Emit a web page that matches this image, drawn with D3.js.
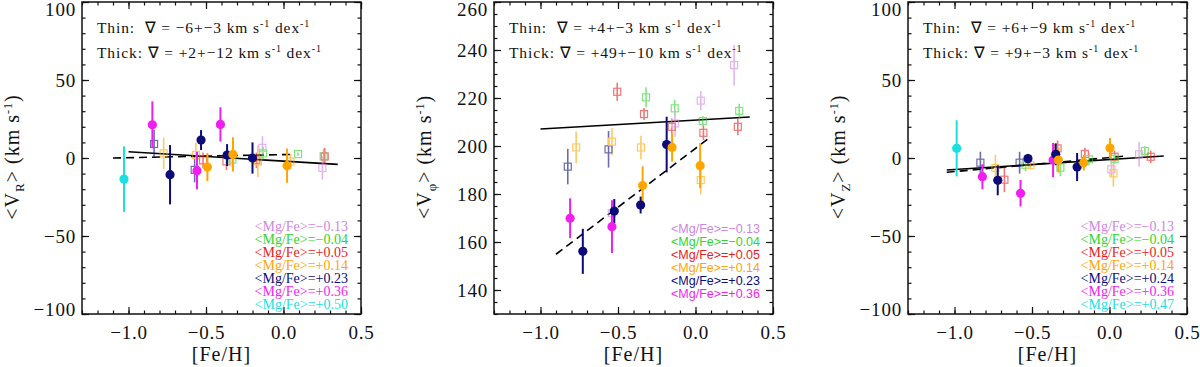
<!DOCTYPE html>
<html>
<head>
<meta charset="utf-8">
<script src="https://cdn.jsdelivr.net/npm/d3@7"></script>
<style>
    body { margin: 0; background: #fff; }
    svg { display: block; }
    svg text { font-family: 'Liberation Serif', 'Times New Roman', Times, serif; }
    .tick text { font-size: 19px; letter-spacing: 0.8px; fill: #111; }
    .tick line { stroke: #111; stroke-width: 1.2; }
    .domain { display: none; }
    .frame { fill: none; stroke: #111; stroke-width: 1.5; }
    .title { font-size: 20px; letter-spacing: 1px; fill: #111; }
    .grad { font-size: 15.5px; letter-spacing: 0.9px; fill: #111; }
    svg text.sans { font-family: 'Liberation Sans', Arial, sans-serif; }
</style>
</head>
<body>
<svg width="1200" height="367"></svg>
<script>
const fehTicks = [-1.0, -0.5, 0.0, 0.5];
const vrTicks = [-100, -50, 0, 50, 100];
const vphiTicks = [140, 160, 180, 200, 220, 240, 260];
const vzTicks = [-100, -50, 0, 50, 100];

// <Mg/Fe> bins shown in each legend
const legendR = ['−0.13', '−0.04', '+0.05', '+0.14', '+0.23', '+0.36', '+0.50'];
const legendPhi = ['−0.13', '−0.04', '+0.05', '+0.14', '+0.23', '+0.36'];
const legendZ = ['−0.13', '−0.04', '+0.05', '+0.14', '+0.24', '+0.36', '+0.47'];

// [Fe/H], <V>, error, Mg/Fe bin (index into legend)
const vrThin = [
    [-0.835, 9, 9, 4], [-0.773, 3, 10, 3], [-0.573, -7.6, 8, 4], [-0.565, 2, 8, 3],
    [-0.519, -1.5, 5, 2], [-0.368, -2.2, 5.5, 2], [-0.33, -1, 5, 1], [-0.175, -1.5, 5, 2],
    [-0.165, -2.2, 10, 3], [-0.136, 6.5, 7.5, 0], [-0.132, 3, 4, 1], [0.045, -2.2, 5, 3],
    [0.094, 2.5, 1, 1], [0.251, -6.4, 7.5, 0], [0.259, 1, 5, 1], [0.266, 1, 5.5, 2]
];
const vrThick = [
    [-1.029, -13.5, 21, 6], [-0.846, 21.3, 15, 5], [-0.732, -10.7, 19, 4], [-0.532, 11.5, 6.4, 4],
    [-0.558, -8.1, 12, 5], [-0.491, -5.8, 9, 3], [-0.407, 21.5, 11, 5], [-0.364, 1.9, 7, 4],
    [-0.326, 2.3, 11, 3], [-0.2, 0, 10, 4], [0.023, -4.9, 11, 3]
];
const vphiThin = [
    [0.249, 233.7, 8.5, 0], [-0.505, 222.6, 3.8, 2], [-0.319, 220.3, 4.2, 1], [0.034, 218.9, 4, 0],
    [-0.134, 215.7, 3.5, 1], [0.282, 214.6, 3, 1], [-0.332, 213.3, 2.5, 2], [-0.132, 209.4, 5.5, 0],
    [-0.153, 208, 3.5, 2], [0.047, 210.4, 2, 1], [0.051, 205.5, 3, 2], [0.273, 208, 3.5, 2],
    [-0.824, 191.4, 7.4, 4], [-0.77, 199.4, 6.6, 3], [-0.561, 198.6, 7.6, 4], [-0.539, 201.8, 5.7, 3],
    [-0.352, 199.4, 4.9, 3], [0.034, 185.8, 6, 3], [-0.54, 172, 5, 0]
];
const vphiThick = [
    [-0.186, 200.6, 11.6, 4], [-0.151, 199.4, 5.9, 3], [0.03, 191.8, 9.4, 3], [-0.341, 183.5, 8, 3],
    [-0.354, 175.4, 3.5, 4], [-0.524, 172.9, 5, 4], [-0.809, 169.9, 8.3, 5], [-0.539, 166.4, 11, 5],
    [-0.727, 156.1, 9.4, 4]
];
const vzThin = [
    [-0.833, -3, 7, 4], [-0.736, -6.4, 8.5, 3], [-0.678, -13.9, 8, 2], [-0.58, -3, 7, 4],
    [-0.542, -4.5, 4, 1], [-0.51, -4.5, 3, 3], [-0.335, 6.2, 5, 2], [-0.317, -6.2, 5.5, 1],
    [-0.159, 2.6, 4, 2], [-0.133, -0.8, 4, 1], [0.033, 0.8, 4, 2], [0.012, -7.2, 5, 0],
    [0.025, -9.8, 8.5, 3], [0.033, -0.6, 3, 1], [0.191, 2.4, 8, 0], [0.228, 4.5, 3, 1],
    [0.266, 0.8, 4, 2]
];
const vzThick = [
    [-0.986, 6.2, 18, 6], [-0.82, -12, 8, 5], [-0.721, -14.3, 9.6, 4], [-0.574, -22.6, 8.5, 5],
    [-0.526, -0.4, 3, 4], [-0.364, -1.3, 11, 5], [-0.347, 2.4, 7, 4], [-0.33, -1.3, 8, 3],
    [-0.209, -5.8, 9, 4], [-0.166, -3, 5, 3], [0.003, 6.4, 6.4, 3]
];

// linear fits: slope, intercept, [Fe/H] from, [Fe/H] to
const vrThinFit = [-6, -2, -1.0, 0.35];
const vrThickFit = [2, 2.2, -1.1, 0.07];
const vphiThinFit = [3.7, 210.8, -1.0, 0.35];
const vphiThickFit = [49, 199, -0.9, 0.1];
const vzThinFit = [6.4, -1.0, -1.05, 0.35];
const vzThickFit = [9, 0.3, -1.05, 0.1];

const vrGrad = ['−6+−3', '+2+−12'];
const vphiGrad = ['+4+−3', '+49+−10'];
const vzGrad = ['+6+−9', '+9+−3'];

const binColors = ['#cf86e0', '#2ed62e', '#e81c1c', '#ffa500', '#0c0c78', '#f01ef0', '#1ae0e0'];

const svg = d3.select('svg');
const width = 279;
const plotTop = 2, plotBottom = 314;

function drawPanel(left, yDomain, yTicks, yMinorStep, thin, thick, thinFit, thickFit, grad, legend, sub, legendSans, legendSize, legendTop) {
    const g = svg.append('g').attr('transform', `translate(${left}, 0)`);

    const x = d3.scaleLinear().domain([-1.3, 0.5]).range([0, width]);
    const y = d3.scaleLinear().domain(yDomain).range([plotBottom, plotTop]);

    const xMinor = d3.range(-1.3, 0.501, 0.1).map(v => +v.toFixed(2));
    const yMinor = d3.range(yDomain[0], yDomain[1] + 0.01, yMinorStep);

    // minor ticks on all sides
    g.append('g').attr('transform', `translate(0, ${plotBottom})`)
        .call(d3.axisBottom(x).tickValues(xMinor).tickSize(-3.5).tickFormat(''));
    g.append('g').attr('transform', `translate(0, ${plotTop})`)
        .call(d3.axisTop(x).tickValues(xMinor).tickSize(-3.5).tickFormat(''));
    g.append('g').call(d3.axisLeft(y).tickValues(yMinor).tickSize(-3.5).tickFormat(''));
    g.append('g').attr('transform', `translate(${width}, 0)`)
        .call(d3.axisRight(y).tickValues(yMinor).tickSize(-3.5).tickFormat(''));

    // major ticks
    g.append('g').attr('transform', `translate(0, ${plotBottom})`)
        .call(d3.axisBottom(x).tickValues(fehTicks).tickSize(-7).tickPadding(12)
            .tickFormat(d => d3.format('.1f')(d).replace('-', '−')))
        .attr('font-family', null).attr('font-size', null);
    g.append('g').attr('transform', `translate(0, ${plotTop})`)
        .call(d3.axisTop(x).tickValues(fehTicks).tickSize(-7).tickFormat(''));
    const yAxis = g.append('g')
        .call(d3.axisLeft(y).tickValues(yTicks).tickSize(-7).tickPadding(6)
            .tickFormat(d => String(d).replace('-', '−')))
        .attr('font-family', null).attr('font-size', null);
    yAxis.selectAll('.tick text').attr('y', function (d) {
        const p = y(d);
        return Math.min(Math.max(p, 9), 309) - p;
    });
    g.append('g').attr('transform', `translate(${width}, 0)`)
        .call(d3.axisRight(y).tickValues(yTicks).tickSize(-7).tickFormat(''));

    g.append('rect').attr('class', 'frame')
        .attr('x', 0).attr('y', plotTop).attr('width', width).attr('height', plotBottom - plotTop);

    // fit lines
    const fitLine = (f) => [[f[2], f[1] + f[0] * f[2]], [f[3], f[1] + f[0] * f[3]]];
    const line = d3.line().x(d => x(d[0])).y(d => y(d[1]));
    g.append('path').attr('d', line(fitLine(thinFit)))
        .attr('stroke', '#000').attr('stroke-width', 1.6).attr('fill', 'none');
    g.append('path').attr('d', line(fitLine(thickFit)))
        .attr('stroke', '#000').attr('stroke-width', 1.6).attr('stroke-dasharray', '8,5').attr('fill', 'none');

    // thin disc: open squares
    const tg = g.append('g').attr('opacity', 0.6);
    tg.selectAll('line.err').data(thin).enter().append('line')
        .attr('x1', d => x(d[0])).attr('x2', d => x(d[0]))
        .attr('y1', d => y(d[1] - d[2])).attr('y2', d => y(d[1] + d[2]))
        .attr('stroke', d => binColors[d[3]]).attr('stroke-width', 1.6);
    tg.selectAll('rect').data(thin).enter().append('rect')
        .attr('x', d => x(d[0]) - 3.5).attr('y', d => y(d[1]) - 3.5)
        .attr('width', 7).attr('height', 7)
        .attr('fill', 'none').attr('stroke', d => binColors[d[3]]).attr('stroke-width', 1.2);

    // thick disc: filled circles
    const kg = g.append('g');
    kg.selectAll('line').data(thick).enter().append('line')
        .attr('x1', d => x(d[0])).attr('x2', d => x(d[0]))
        .attr('y1', d => y(d[1] - d[2])).attr('y2', d => y(d[1] + d[2]))
        .attr('stroke', d => binColors[d[3]]).attr('stroke-width', 2);
    kg.selectAll('circle').data(thick).enter().append('circle')
        .attr('cx', d => x(d[0])).attr('cy', d => y(d[1])).attr('r', 4.6)
        .attr('fill', d => binColors[d[3]]);

    // gradient annotations
    const labels = ['Thin:  ∇ = ', 'Thick: ∇ = '];
    grad.forEach((gr, i) => {
        const t = g.append('text').attr('class', 'grad')
            .attr('x', 15).attr('y', 33 + i * 24.5).attr('xml:space', 'preserve');
        t.append('tspan').text(labels[i] + gr + ' km s');
        t.append('tspan').attr('dy', -6).attr('font-size', 10).text('-1');
        t.append('tspan').attr('dy', 6).text(' dex');
        t.append('tspan').attr('dy', -6).attr('font-size', 10).text('-1');
    });

    // legend
    g.append('g').selectAll('text').data(legend).enter().append('text')
        .attr('class', legendSans ? 'sans' : null)
        .attr('x', width - 13).attr('y', (d, i) => legendTop + i * 13)
        .attr('text-anchor', 'end')
        .attr('font-size', legendSize)
        .attr('fill', (d, i) => binColors[i])
        .text(d => `<Mg/Fe>=${d}`);

    // axis titles
    g.append('text').attr('class', 'title')
        .attr('x', width / 2).attr('y', 361).attr('text-anchor', 'middle')
        .text('[Fe/H]');
    const yt = g.append('text').attr('class', 'title')
        .attr('transform', `translate(${-63}, 157) rotate(-90)`)
        .attr('text-anchor', 'middle');
    yt.append('tspan').text('<V');
    yt.append('tspan').attr('dy', 5).attr('font-size', 13).text(sub);
    yt.append('tspan').attr('dy', -5).text('> (km s');
    yt.append('tspan').attr('dy', -7).attr('font-size', 12).text('-1');
    yt.append('tspan').attr('dy', 7).text(')');
}

drawPanel(82, [-100, 100], vrTicks, 10, vrThin, vrThick, vrThinFit, vrThickFit, vrGrad,
    legendR, 'R', false, 14, 231);
drawPanel(494, [130, 260], vphiTicks, 5, vphiThin, vphiThick, vphiThinFit, vphiThickFit, vphiGrad,
    legendPhi, 'φ', true, 12.5, 233);
drawPanel(908, [-100, 100], vzTicks, 10, vzThin, vzThick, vzThinFit, vzThickFit, vzGrad,
    legendZ, 'Z', false, 14, 231);
</script>
</body>
</html>
